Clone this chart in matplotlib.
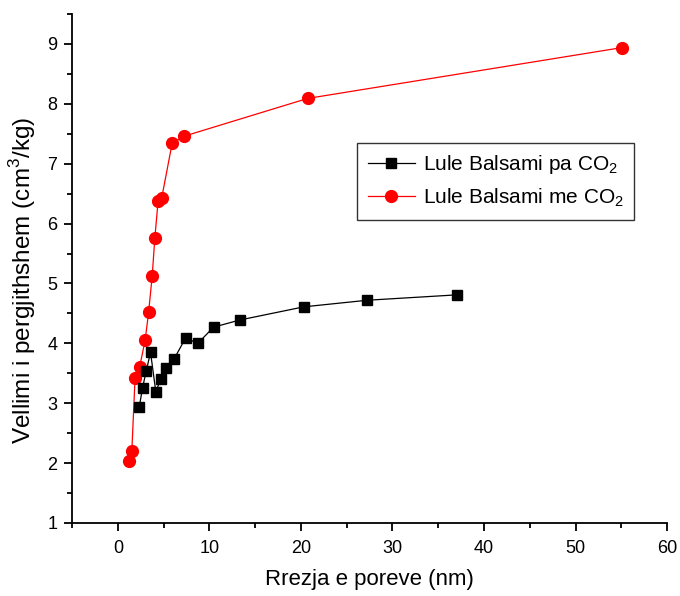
import matplotlib
matplotlib.use("Agg")
import matplotlib.pyplot as plt
from matplotlib.ticker import MultipleLocator

plt.rcParams['font.family'] = ['Liberation Sans', 'DejaVu Sans']
plt.rcParams['mathtext.fontset'] = 'custom'
plt.rcParams['mathtext.rm'] = 'Liberation Sans'

# Lule Balsami pa CO2 (black squares)
x_pa = [2.33, 2.70, 3.09, 3.57, 4.15, 4.70, 5.25, 6.15, 7.40, 8.74, 10.45, 13.33, 20.33, 27.25, 37.05]
y_pa = [2.93, 3.26, 3.53, 3.85, 3.19, 3.41, 3.59, 3.74, 4.09, 4.00, 4.27, 4.39, 4.61, 4.72, 4.81]

# Lule Balsami me CO2 (red circles)
x_me = [1.20, 1.53, 1.88, 2.37, 2.98, 3.36, 3.75, 4.04, 4.40, 4.78, 5.93, 7.25, 20.73, 55.11]
y_me = [2.04, 2.21, 3.42, 3.60, 4.05, 4.52, 5.12, 5.76, 6.38, 6.42, 7.34, 7.46, 8.09, 8.94]

labels = ['Lule Balsami pa CO$_2$', 'Lule Balsami me CO$_2$']

fig = plt.figure(figsize=(6.8, 5.96), dpi=100)
ax = fig.add_axes([0.106, 0.1225, 0.875, 0.854])

ax.plot(x_pa, y_pa, color='black', lw=0.9, marker='s', ms=7.5, mfc='black', mec='black', label=labels[0], zorder=3)
ax.plot(x_me, y_me, color='red', lw=0.9, marker='o', ms=8.5, mfc='red', mec='red', label=labels[1], zorder=2)

ax.set_xlim(-5, 60)
ax.set_ylim(1, 9.5)
ax.xaxis.set_major_locator(MultipleLocator(10))
ax.xaxis.set_minor_locator(MultipleLocator(5))
ax.yaxis.set_major_locator(MultipleLocator(1))
ax.yaxis.set_minor_locator(MultipleLocator(0.5))

for s in ['top', 'right']:
    ax.spines[s].set_visible(False)
for s in ['left', 'bottom']:
    ax.spines[s].set_linewidth(1.3)

ax.tick_params(which='major', direction='out', length=6, width=1.3, labelsize=13, colors='black')
ax.tick_params(which='minor', direction='out', length=3.5, width=1.3)
ax.tick_params(axis='x', which='major', pad=6)
ax.tick_params(axis='y', which='major', pad=4.5)

ax.set_xlabel('Rrezja e poreve (nm)', fontsize=16, labelpad=9)
ax.set_ylabel('Vellimi i pergjithshem (cm$^3$/kg)', fontsize=17.5)
ax.yaxis.set_label_coords(-0.057, 0.477)

leg = ax.legend(loc='upper left', bbox_to_anchor=(0.479, 0.747), fontsize=15,
                frameon=True, fancybox=False, edgecolor='#333333', framealpha=1,
                handlelength=2.3, borderpad=0.5, labelspacing=0.5, handletextpad=0.35,
                borderaxespad=0)
leg.get_frame().set_linewidth(1.0)

fig.savefig('out.png', dpi=100)
